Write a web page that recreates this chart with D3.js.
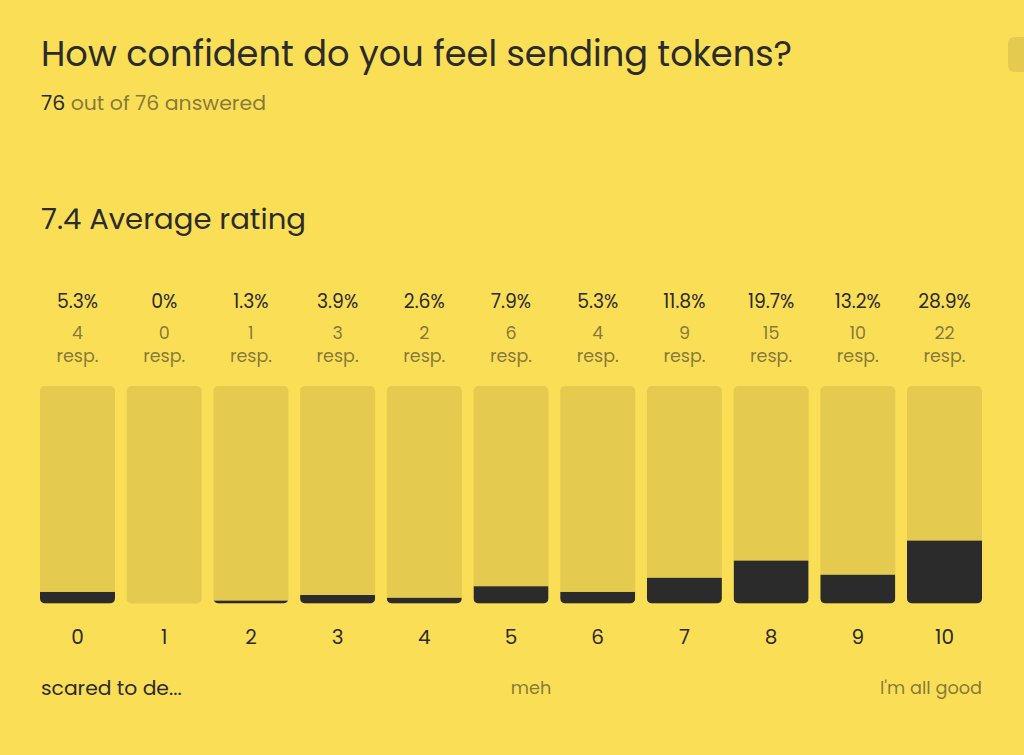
<!DOCTYPE html>
<html><head><meta charset="utf-8">
<script src="https://cdn.jsdelivr.net/npm/d3@7"></script>
<style>
html,body{margin:0;padding:0;background:#FADE55;}
svg{display:block;}
text{font-family:"Poppins","Inter","Open Sans",sans-serif;}
</style></head>
<body>
<svg id="chart" width="1024" height="755"></svg>
<script>
const ratings = ["0","1","2","3","4","5","6","7","8","9","10"];
const percents = [5.3, 0, 1.3, 3.9, 2.6, 7.9, 5.3, 11.8, 19.7, 13.2, 28.9];
const counts = [4, 0, 1, 3, 2, 6, 4, 9, 15, 10, 22];
const title = "How confident do you feel sending tokens?";
const answered = 76, total = 76;
const average = 7.4;
const scaleLabels = ["scared to de...", "meh", "I'm all good"];

const C = {bg:"#FADE55", track:"#E5CA50", fill:"#2B2B2B", text:"#2B2B2B", muted:"rgba(43,43,43,0.58)"};
const svg = d3.select("#chart");
svg.append("rect").attr("width",1024).attr("height",755).attr("fill",C.bg);

// top-right button fragment
svg.append("rect").attr("x",1008).attr("y",37).attr("width",40).attr("height",35).attr("rx",6).attr("fill",C.track);

function fitText(sel, w){ sel.attr("textLength", w).attr("lengthAdjust","spacingAndGlyphs"); return sel; }

fitText(svg.append("text").attr("x",41).attr("y",66).attr("font-size",35).attr("fill",C.text).text(title), 751);

const sub = svg.append("text").attr("x",41).attr("y",110).attr("font-size",19);
sub.append("tspan").attr("fill",C.text).text(answered);
sub.append("tspan").attr("fill",C.muted).text(" out of " + total + " answered");
fitText(sub, 225);

fitText(svg.append("text").attr("x",41).attr("y",229).attr("font-size",29).attr("fill",C.text).text(average + " Average rating"), 265);

const x = d3.scaleBand().domain(ratings).range([40, 982]).paddingInner(0.135).paddingOuter(0);
const y = d3.scaleLinear().domain([0, 100]).range([603.5, 386]);
const bw = x.bandwidth();

const defs = svg.append("defs");
ratings.forEach((r,i)=>{
  defs.append("clipPath").attr("id","clip"+i)
    .append("rect").attr("x",x(r)).attr("y",y(100)).attr("width",bw).attr("height",y(0)-y(100)).attr("rx",5);
});

const g = svg.append("g");
const bars = g.selectAll("g.bar").data(ratings.map((r,i)=>({r, p:percents[i], c:counts[i], i}))).join("g").attr("class","bar");
bars.append("rect").attr("x",d=>x(d.r)).attr("y",y(100)).attr("width",bw).attr("height",y(0)-y(100)).attr("rx",5).attr("fill",C.track);
bars.append("rect").attr("clip-path",d=>"url(#clip"+d.i+")")
  .attr("x",d=>x(d.r)).attr("y",d=>y(d.p)).attr("width",bw).attr("height",d=>y(0)-y(d.p)).attr("fill",C.fill);

const cx = d=>x(d.r)+bw/2;
bars.append("text").attr("x",cx).attr("y",308).attr("text-anchor","middle").attr("font-size",18.8).attr("fill",C.text).text(d=>d.p+"%");
bars.append("text").attr("x",cx).attr("y",339).attr("text-anchor","middle").attr("font-size",17.5).attr("fill",C.muted).text(d=>d.c);
bars.append("text").attr("x",cx).attr("y",362).attr("text-anchor","middle").attr("font-size",17.5).attr("fill",C.muted).text("resp.");

const axis = d3.axisBottom(x).tickSize(0).tickPadding(0);
const ax = svg.append("g").attr("transform","translate(0,625)").call(axis);
ax.select(".domain").remove();
ax.selectAll("text").attr("font-size",20).attr("fill",C.text).attr("dy","0").attr("y",18.5)
  .style("font-family",'"Poppins","Inter","Open Sans",sans-serif');

svg.append("text").attr("x",41).attr("y",695).attr("font-size",20.3).attr("fill",C.text).text(scaleLabels[0]);
svg.append("text").attr("x",531).attr("y",694).attr("text-anchor","middle").attr("font-size",17.7).attr("fill",C.muted).text(scaleLabels[1]);
svg.append("text").attr("x",982).attr("y",694).attr("text-anchor","end").attr("font-size",17.7).attr("fill",C.muted).text(scaleLabels[2]);
</script>
</body></html>
